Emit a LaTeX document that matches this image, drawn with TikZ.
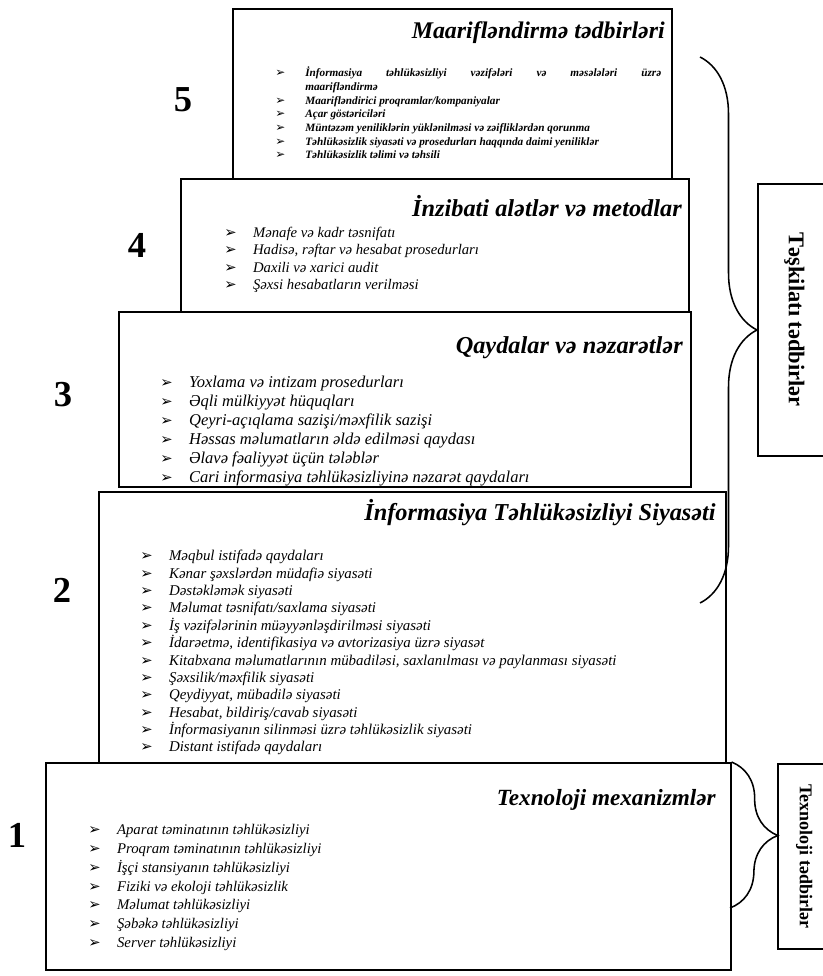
\documentclass[tikz,border=0pt]{standalone}
\usepackage{fontspec}
\setmainfont{Liberation Serif}
\newfontfamily\arrowfont{DejaVu Sans}
\usetikzlibrary{decorations.pathreplacing}

\newcommand{\pt}{\makebox[0.72cm][l]{\arrowfont\fontsize{10.5}{10.5}\selectfont ➢}}
\newcommand{\spt}{\makebox[0.75cm][l]{\arrowfont\fontsize{8.5}{8.5}\selectfont ➢}}
\newcommand{\itemrows}[1]{\begin{tabular}[t]{@{}l@{}l@{}}#1\end{tabular}}

\begin{document}
\begin{tikzpicture}[
    layer/.style={draw, line width=1.1pt, fill=white, anchor=north west, inner sep=0pt},
    title/.style={anchor=east, inner sep=0pt, font=\fontsize{17.3}{19}\selectfont\bfseries\itshape},
    items/.style={anchor=base west, inner sep=0pt},
    level/.style={font=\fontsize{26}{28}\selectfont\bfseries},
    sidetext/.style={rotate=-90, inner sep=0pt},
    bracket/.style={decorate, line width=1.1pt, decoration={brace, amplitude=#1}}
]
    \useasboundingbox (0,0) rectangle (20.55,24.4);

    % Layers, the top one first so the lower ones cover its bottom
    \node[layer, minimum width=10.975cm, minimum height=4.25cm] (lvl5) at (5.8,24.2) {};
    \node[layer, minimum width=12.7cm, minimum height=3.425cm] (lvl4) at (4.5,19.95) {};
    \node[layer, minimum width=14.3cm, minimum height=4.375cm] (lvl3) at (2.95,16.625) {};
    \node[layer, minimum width=15.675cm, minimum height=6.8cm] (lvl2) at (2.45,12.125) {};
    \node[layer, minimum width=17.125cm, minimum height=5.175cm] (lvl1) at (1.125,5.35) {};

    % Level numbers
    \node[level] (n5) at (4.575,21.9) {5};
    \node[level] (n4) at (3.425,18.275) {4};
    \node[level] (n3) at (1.575,14.525) {3};
    \node[level] (n2) at (1.55,9.65) {2};
    \node[level] (n1) at (0.425,3.525) {1};

    % Titles
    \node[title, font=\fontsize{17}{19}\selectfont\bfseries\itshape] (t5) at (16.625,23.575) {Maarifləndirmə tədbirləri};
    \node[title] (t4) at (17.05,19.25) {İnzibati alətlər və metodlar};
    \node[title] (t3) at (17.075,15.7) {Qaydalar və nəzarətlər};
    \node[title] (t2) at (17.9,11.575) {İnformasiya Təhlükəsizliyi Siyasəti};
    \node[title, font=\fontsize{16.5}{18}\selectfont\bfseries\itshape] (t1) at (17.9,4.4) {Texnoloji mexanizmlər};

    % Item lists
    \node[items, font=\fontsize{8}{9.7}\selectfont\bfseries\itshape] (i5) at (6.875,22.475) {%
        \begin{tabular}[t]{@{}l@{}p{8.9cm}@{}}
        \spt & İnformasiya təhlükəsizliyi vəzifələri və məsələləri üzrə\linebreak maarifləndirmə\\
        \spt & Maarifləndirici proqramlar/kompaniyalar\\
        \spt & Açar göstəriciləri\\
        \spt & Müntəzəm yeniliklərin yüklənilməsi və zəifliklərdən qorunma\\
        \spt & Təhlükəsizlik siyasəti və prosedurları haqqında daimi yeniliklər\\
        \spt & Təhlükəsizlik təlimi və təhsili
        \end{tabular}};
    \node[items, font=\fontsize{10.45}{12.1}\selectfont\itshape] (i4) at (5.6,18.45) {\itemrows{%
        \pt & Mənafe  və kadr təsnifatı\\
        \pt & Hadisə, rəftar və hesabat prosedurları\\
        \pt & Daxili və xarici audit\\
        \pt & Şəxsi hesabatların verilməsi}};
    \node[items, font=\fontsize{11.75}{13.5}\selectfont\itshape] (i3) at (4.0,14.7) {\itemrows{%
        \pt & Yoxlama və intizam prosedurları\\
        \pt & Əqli mülkiyyət hüquqları\\
        \pt & Qeyri-açıqlama sazişi/məxfilik sazişi\\
        \pt & Həssas məlumatların əldə edilməsi qaydası\\
        \pt & Əlavə fəaliyyət üçün tələblər\\
        \pt & Cari informasiya təhlükəsizliyinə nəzarət qaydaları}};
    \node[items, font=\fontsize{10.6}{12.3}\selectfont\itshape] (i2) at (3.5,10.375) {\itemrows{%
        \pt & Məqbul istifadə qaydaları\\
        \pt & Kənar şəxslərdən müdafiə siyasəti\\
        \pt & Dəstəkləmək siyasəti\\
        \pt & Məlumat təsnifatı/saxlama siyasəti\\
        \pt & İş vəzifələrinin müəyyənləşdirilməsi siyasəti\\
        \pt & İdarəetmə, identifikasiya və avtorizasiya üzrə siyasət\\
        \pt & Kitabxana məlumatlarının mübadiləsi, saxlanılması və paylanması siyasəti\\
        \pt & Şəxsilik/məxfilik siyasəti\\
        \pt & Qeydiyyat, mübadilə siyasəti\\
        \pt & Hesabat, bildiriş/cavab siyasəti\\
        \pt & İnformasiyanın silinməsi üzrə təhlükəsizlik siyasəti\\
        \pt & Distant istifadə qaydaları}};
    \node[items, font=\fontsize{10.5}{13.3}\selectfont\itshape] (i1) at (2.2,3.525) {\itemrows{%
        \pt & Aparat təminatının təhlükəsizliyi\\
        \pt & Proqram təminatının təhlükəsizliyi\\
        \pt & İşçi stansiyanın təhlükəsizliyi\\
        \pt & Fiziki və ekoloji təhlükəsizlik\\
        \pt & Məlumat təhlükəsizliyi\\
        \pt & Şəbəkə təhlükəsizliyi\\
        \pt & Server təhlükəsizliyi}};

    % Side boxes
    \node[layer, minimum width=1.825cm, minimum height=6.8cm] (orgbox) at (18.925,19.825) {};
    \node[sidetext, font=\fontsize{16}{18}\selectfont\bfseries] (orgtext) at (orgbox.center) {Təşkilatı tədbirlər};
    \node[layer, minimum width=1.325cm, minimum height=4.625cm] (techbox) at (19.425,5.325) {};
    \node[sidetext, font=\fontsize{12.8}{14}\selectfont\bfseries] (techtext) at (techbox.center) {Texnoloji tədbirlər};

    % Braces
    \coordinate (orgtop) at (17.5,22.975);
    \coordinate (orgbot) at (17.5,9.325);
    \draw[bracket=1.425cm] (orgtop) -- (orgbot);
    \coordinate (techbot) at (18.25,1.7);
    \draw[bracket=1.175cm] (lvl1.north east) -- (techbot);
\end{tikzpicture}
\end{document}
